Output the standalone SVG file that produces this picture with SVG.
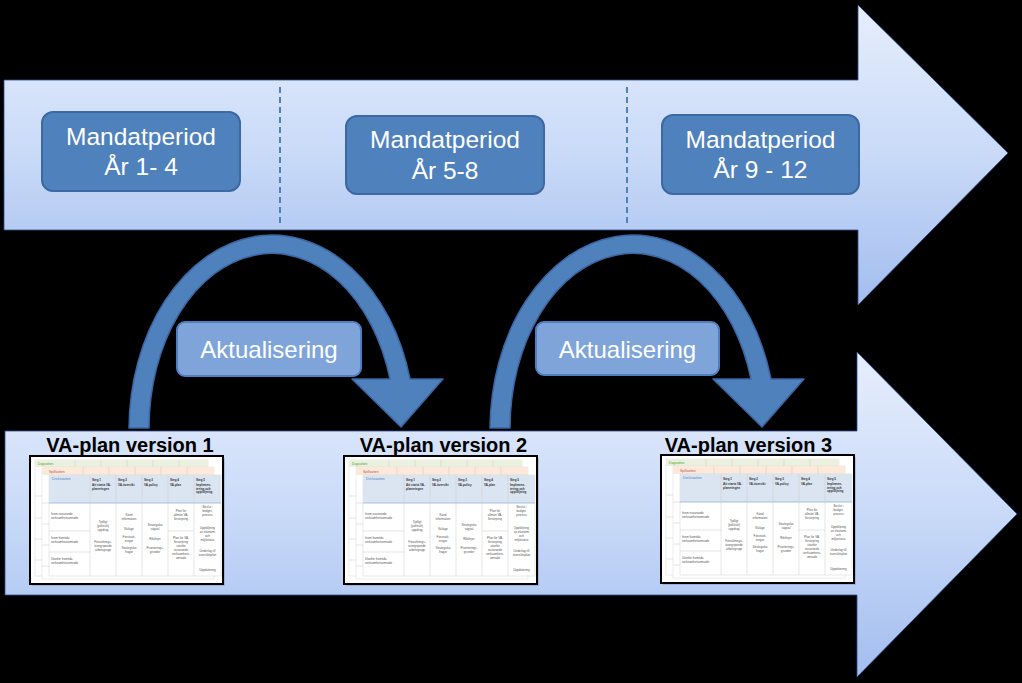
<svg xmlns="http://www.w3.org/2000/svg" width="1022" height="683" viewBox="0 0 1022 683">
<defs>
<style>
.per{fill:#4f81bd;stroke:#3c69a3;stroke-width:2}
.pt{font-family:"Liberation Sans",Arial,sans-serif;font-size:24.5px;fill:#fff;text-anchor:middle}
.akt{fill:#7ea4da;stroke:#4f7fc0;stroke-width:2}
.arc{fill:#4f81bd;stroke:#3a66a3;stroke-width:1.5;stroke-linejoin:round}
.lbl{font-family:"Liberation Sans",Arial,sans-serif;font-size:20px;font-weight:bold;fill:#000;text-anchor:middle}
.dash{stroke:#4f81bd;stroke-width:2;stroke-dasharray:6 4}
.big{stroke:#2d4f8f;stroke-width:0.8}
.t{font-family:"Liberation Sans",Arial,sans-serif;font-size:3px;fill:#555;text-anchor:middle}
.tl{font-family:"Liberation Sans",Arial,sans-serif;font-size:3px;fill:#555}
.th{font-family:"Liberation Sans",Arial,sans-serif;font-size:3px;fill:#333;font-weight:bold}
.gl{stroke:#c8c8c8;stroke-width:0.5}
</style>
<linearGradient id="ag" x1="0" y1="0" x2="0" y2="1">
<stop offset="0" stop-color="#e6eefc"/>
<stop offset="0.5" stop-color="#c9daf8"/>
<stop offset="1" stop-color="#a3bdef"/>
</linearGradient>
<g id="thumb">
<rect x="2" y="2" width="193" height="128" fill="#6b7fa8" opacity="0.35"/>
<rect x="0" y="0" width="193" height="128" fill="#fff" stroke="#000" stroke-width="2"/>
<rect x="5" y="4" width="173" height="116" fill="#fff" stroke="#d0d0d0" stroke-width="0.4"/>
<rect x="5" y="4" width="173" height="7" fill="#ebf1de"/>
<path class="gl" d="M45 4V11M71 4V11M97 4V11M123 4V11M149 4V11M5 40H12M5 62H12M5 83H12M5 104H12"/>
<text x="8" y="9" class="tl" style="fill:#4ea72e;font-size:3.4px">Dagvatten</text>
<rect x="12" y="11" width="172" height="112" fill="#fff" stroke="#d0d0d0" stroke-width="0.4"/>
<rect x="12" y="11" width="172" height="8" fill="#fde9d9"/>
<path class="gl" d="M53 11V19M79 11V19M105 11V19M131 11V19M157 11V19M12 47H19M12 68H19M12 89H19M12 110H19"/>
<text x="19" y="16.5" class="tl" style="fill:#c0504d;font-size:3.4px">Spillvatten</text>
<rect x="19" y="19" width="172" height="101" fill="#fff" stroke="#c8c8c8" stroke-width="0.4"/>
<rect x="19" y="19" width="172" height="28" fill="#dbe5f1"/>
<path d="M19 47H191" stroke="#95b3d7" stroke-width="0.8"/>
<path class="gl" d="M60 19V120M86 19V120M112 19V120M138 19V120M164 19V120M19 75H60M19 96H60M138 75H164"/>
<text x="22" y="24" class="tl" style="fill:#4f81bd;font-size:3.4px">Dricksvatten</text>
<text class="th" x="62" y="25">Steg 1</text>
<text class="th" x="62" y="30">Att starta VA-</text>
<text class="th" x="62" y="33.5">planeringen</text>
<text class="th" x="88" y="25">Steg 2</text>
<text class="th" x="88" y="30">VA-översikt</text>
<text class="th" x="114" y="25">Steg 3</text>
<text class="th" x="114" y="30">VA-policy</text>
<text class="th" x="140" y="25">Steg 4</text>
<text class="th" x="140" y="30">VA-plan</text>
<text class="th" x="166" y="25">Steg 5</text>
<text class="th" x="166" y="30">Implemen-</text>
<text class="th" x="166" y="33.5">tering och</text>
<text class="th" x="166" y="37">uppföljning</text>
<text class="tl" x="21" y="59">Inom nuvarande</text>
<text class="tl" x="21" y="62.5">verksamhetsområde</text>
<text class="tl" x="21" y="83">Inom framtida</text>
<text class="tl" x="21" y="86.5">verksamhetsområde</text>
<text class="tl" x="21" y="104">Utanför framtida</text>
<text class="tl" x="21" y="107.5">verksamhetsområde</text>
<text class="t" x="73" y="67">Tydligt</text>
<text class="t" x="73" y="71">(politiskt)</text>
<text class="t" x="73" y="75">uppdrag</text>
<text class="t" x="73" y="87">Förvaltnings-</text>
<text class="t" x="73" y="91">övergripande</text>
<text class="t" x="73" y="95">arbetsgrupp</text>
<text class="t" x="99" y="60">Känd</text>
<text class="t" x="99" y="64">information</text>
<text class="t" x="99" y="74">Nuläge</text>
<text class="t" x="99" y="82">Förutsätt-</text>
<text class="t" x="99" y="86">ningar</text>
<text class="t" x="99" y="93">Strategiska</text>
<text class="t" x="99" y="97">frågor</text>
<text class="t" x="125" y="70">Strategiska</text>
<text class="t" x="125" y="74">vägval</text>
<text class="t" x="125" y="84">Riktlinjer</text>
<text class="t" x="125" y="93">Prioriterings-</text>
<text class="t" x="125" y="97">grunder</text>
<text class="t" x="151" y="56">Plan för</text>
<text class="t" x="151" y="60">allmän VA-</text>
<text class="t" x="151" y="64">försörjning</text>
<text class="t" x="151" y="83">Plan för VA-</text>
<text class="t" x="151" y="87">försörjning</text>
<text class="t" x="151" y="91">utanför</text>
<text class="t" x="151" y="95">nuvarande</text>
<text class="t" x="151" y="99">verksamhets-</text>
<text class="t" x="151" y="103">område</text>
<text class="t" x="177.5" y="52">Beslut i</text>
<text class="t" x="177.5" y="56">budget-</text>
<text class="t" x="177.5" y="60">process</text>
<text class="t" x="177.5" y="73">Uppföljning</text>
<text class="t" x="177.5" y="77">av ekonomi</text>
<text class="t" x="177.5" y="81">och</text>
<text class="t" x="177.5" y="85">miljöstatus</text>
<text class="t" x="177.5" y="96">Underlag till</text>
<text class="t" x="177.5" y="100">översiktsplan</text>
<text class="t" x="177.5" y="115">Uppdatering</text>
</g>
</defs>
<rect x="0" y="0" width="1022" height="683" fill="#000"/>

<g id="top-arrow">
<polygon points="4,80 858,80 858,5 1008,153 858,305 858,230 4,230" fill="url(#ag)" class="big"/>
<line x1="280" y1="87" x2="280" y2="227" class="dash"/>
<line x1="627" y1="87" x2="627" y2="227" class="dash"/>
</g>

<g id="bottom-arrow">
<polygon points="5,431 857,431 857,352 1017,514 857,677 857,595 5,595" fill="url(#ag)" class="big"/>
</g>

<g id="period-1">
<rect class="per" x="42" y="112" width="198" height="79" rx="11"/>
<text class="pt" x="141" y="145">Mandatperiod</text>
<text class="pt" x="141" y="175">År 1- 4</text>
</g>
<g id="period-2">
<rect class="per" x="346" y="116" width="198" height="78" rx="11"/>
<text class="pt" x="445" y="148">Mandatperiod</text>
<text class="pt" x="445" y="179">År 5-8</text>
</g>
<g id="period-3">
<rect class="per" x="662" y="115" width="197" height="79" rx="11"/>
<text class="pt" x="760.5" y="148">Mandatperiod</text>
<text class="pt" x="760.5" y="178">År 9 - 12</text>
</g>

<g id="connectors">
<path class="arc" d="M129 428A143 195 0 0 1 410 379L443 379L401 427L352 379L390 379A123 175 0 0 0 149 428Z"/>
<path class="arc" transform="translate(361,0)" d="M129 428A143 195 0 0 1 410 379L443 379L401 427L352 379L390 379A123 175 0 0 0 149 428Z"/>
</g>

<g id="akt-1">
<rect class="akt" x="177" y="322" width="184" height="54" rx="8"/>
<text class="pt" x="269" y="358" style="font-size:24px">Aktualisering</text>
</g>
<g id="akt-2">
<rect class="akt" x="536" y="322" width="183" height="53" rx="8"/>
<text class="pt" x="627.5" y="358" style="font-size:24px">Aktualisering</text>
</g>

<g id="va-plan-1">
<text class="lbl" x="130" y="452">VA-plan version 1</text>
<use href="#thumb" x="30" y="456"/>
</g>
<g id="va-plan-2">
<text class="lbl" x="443.5" y="452">VA-plan version 2</text>
<use href="#thumb" x="344" y="456"/>
</g>
<g id="va-plan-3">
<text class="lbl" x="748.5" y="452">VA-plan version 3</text>
<use href="#thumb" x="661" y="455"/>
</g>
</svg>
